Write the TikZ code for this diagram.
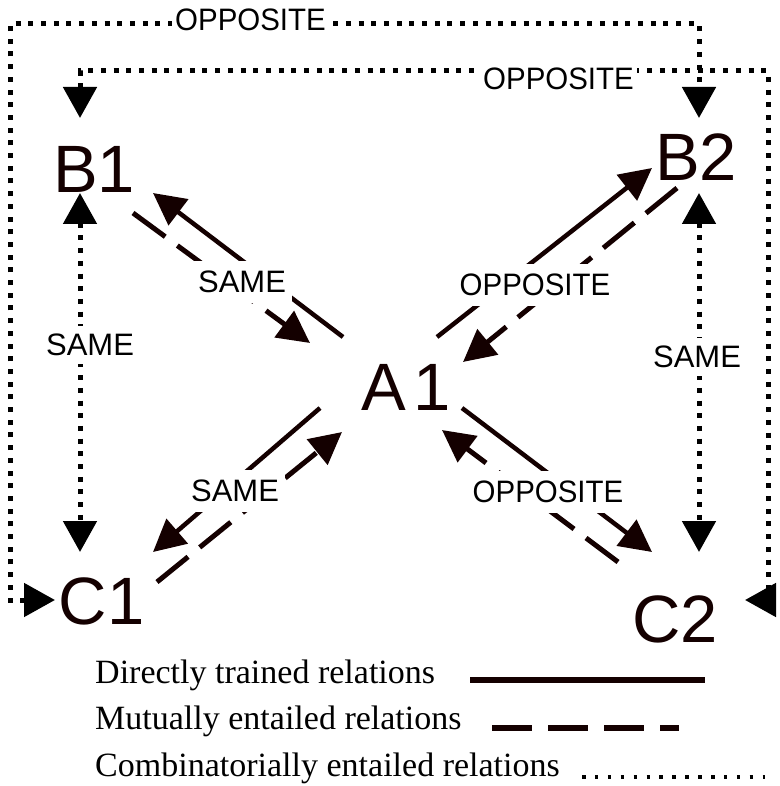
\documentclass[tikz,border=0pt]{standalone}
\usepackage{fontspec}
\setmainfont{Liberation Serif}
\newfontfamily\arialf{Liberation Sans}
\usetikzlibrary{arrows.meta}
\definecolor{ink}{RGB}{20,0,0}
\begin{document}
\begin{tikzpicture}[x=1pt,y=-1pt,line join=miter,
  term/.style={font=\arialf\fontsize{67}{67}\selectfont, text=ink, inner sep=0pt},
  lbl/.style={font=\arialf\fontsize{31}{31}\selectfont, fill=white, inner xsep=6pt, inner ysep=10pt, text=black},
  toplbl/.style={font=\arialf\fontsize{31}{31}\selectfont, fill=white, inner xsep=3pt, inner ysep=4pt, text=black, anchor=west},
  legtext/.style={font=\fontsize{34}{34}\selectfont, anchor=base west, inner sep=0pt},
  trained/.style={draw=ink, line width=4.5pt, -{Triangle[length=32pt,width=32pt]}},
  entailed/.style={draw=ink, line width=5pt, dash pattern=on 40pt off 15pt, -{Triangle[length=32pt,width=32pt]}},
  combi/.style={draw=black, line width=5pt, dash pattern=on 5pt off 7.7pt,
    {Triangle[length=31pt,width=33pt]}-{Triangle[length=31pt,width=33pt]}},
]
\useasboundingbox (0,0) rectangle (779,786);

% terms
\node[term] (B1) at (94,169) {B1};
\node[term] (B2) at (696,157.5) {B2};
\node[term] (A1) at (406,387) {A\kern8pt1};
\node[term] (C1) at (101.6,601) {C1};
\node[term] (C2) at (675,619) {C2};

% end points of the connectors
\coordinate (ab1s) at (343,337); \coordinate (ab1e) at (153,193);
\coordinate (ab2s) at (437,337); \coordinate (ab2e) at (652,168);
\coordinate (ac1s) at (320,408); \coordinate (ac1e) at (153,552);
\coordinate (ac2s) at (462,408); \coordinate (ac2e) at (652,552);
\coordinate (b1as) at (133,213); \coordinate (b1ae) at (310,343);
\coordinate (b2as) at (677,188); \coordinate (b2ae) at (463,362);
\coordinate (c1as) at (157,582); \coordinate (c1ae) at (342,432);
\coordinate (c2as) at (618,562); \coordinate (c2ae) at (442,430);
\coordinate (b1top) at (80,118); \coordinate (b1bot) at (80,193);
\coordinate (c1top) at (80,552); \coordinate (c1left) at (55,600);
\coordinate (b2top) at (699,118); \coordinate (b2bot) at (699,193);
\coordinate (c2top) at (699,552); \coordinate (c2right) at (745,600);

% directly trained relations
\draw[trained] (ab1s) -- (ab1e);
\draw[trained] (ab2s) -- (ab2e);
\draw[trained] (ac1s) -- (ac1e);
\draw[trained] (ac2s) -- (ac2e);

% mutually entailed relations
\draw[entailed] (b1as) -- (b1ae);
\draw[entailed] (b2as) -- (b2ae);
\draw[entailed] (c1as) -- (c1ae);
\draw[entailed] (c2as) -- (c2ae);

% combinatorially entailed relations
\draw[combi] (b1bot) -- (c1top);
\draw[combi] (b2bot) -- (c2top);
\draw[combi] (c1left) -- (10,600) -- (10,24) -- (699,24) -- (b2top);
\draw[combi] (b1top) -- (80,71) -- (768,71) -- (768,600) -- (c2right);

% labels
\node[lbl] (lb1) at (242,282) {SAME};
\node[lbl] (lb2) at (535,285) {\scalebox{0.95}[1]{OPPOSITE}};
\node[lbl] (lc1) at (235,491) {SAME};
\node[lbl] (lc2) at (548,492) {\scalebox{0.95}[1]{OPPOSITE}};
\node[lbl, inner ysep=8pt] (lv1) at (90,345) {SAME};
\node[lbl, inner ysep=8pt] (lv2) at (697,357) {SAME};
\node[toplbl] (lo1) at (172,20) {\scalebox{0.95}[1]{OPPOSITE}\hspace{24pt}};
\node[toplbl] (lo2) at (480,79) {\scalebox{0.95}[1]{OPPOSITE}\hspace{16pt}};

% legend
\node[legtext] (lg1) at (95,683) {Directly trained relations};
\node[legtext] (lg2) at (95,729) {Mutually entailed relations};
\node[legtext] (lg3) at (95,776) {Combinatorially entailed relations};
\coordinate (lg1a) at (470,680); \coordinate (lg1b) at (705,680);
\coordinate (lg2a) at (492,728); \coordinate (lg2b) at (679,728);
\coordinate (lg3a) at (582,777); \coordinate (lg3b) at (765,777);
\draw[ink, line width=5.5pt] (lg1a) -- (lg1b);
\draw[ink, line width=6pt, dash pattern=on 40pt off 16pt] (lg2a) -- (lg2b);
\draw[black, line width=3.5pt, dash pattern=on 3.5pt off 9.4pt] (lg3a) -- (lg3b);
\end{tikzpicture}
\end{document}
